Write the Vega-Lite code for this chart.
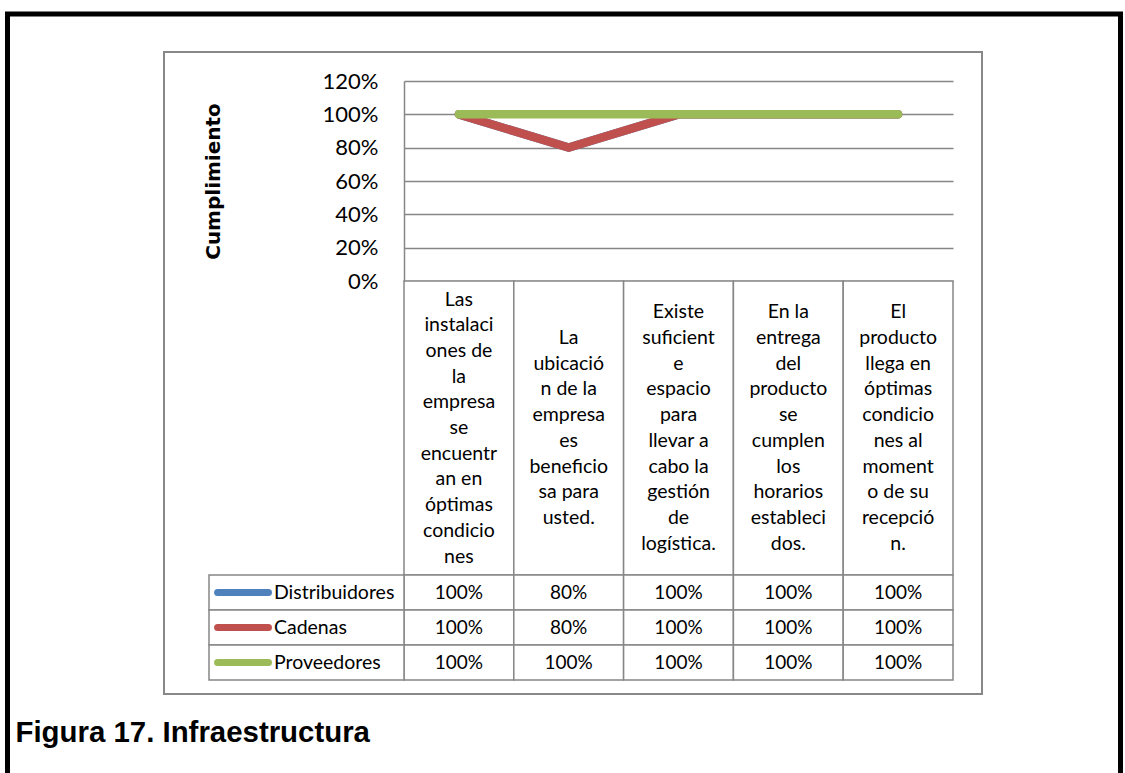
{
  "$schema": "https://vega.github.io/schema/vega-lite/v6.json",
  "width": 1113,
  "height": 762,
  "padding": {"left": 7.5, "top": 14, "right": 4.5, "bottom": 0},
  "autosize": {"type": "none"},
  "background": "white",
  "config": {"view": {"stroke": "black", "strokeWidth": 5}, "font": "Lato"},
  "title": {
    "text": "Figura 17. Infraestructura",
    "orient": "bottom",
    "anchor": "start",
    "frame": "group",
    "font": "Liberation Sans",
    "fontSize": 29.4,
    "fontWeight": "bold",
    "color": "black",
    "baseline": "alphabetic",
    "offset": -34,
    "dx": 8
  },
  "datasets": {
    "chartarea": [{"part": "chart area"}],
    "scores": [
      {"category": "Las\ninstalaci\nones de\nla\nempresa\nse\nencuentr\nan en\nóptimas\ncondicio\nnes", "series": "Distribuidores", "value": 1.0},
      {"category": "La\nubicació\nn de la\nempresa\nes\nbeneficio\nsa para\nusted.", "series": "Distribuidores", "value": 0.8},
      {"category": "Existe\nsuficient\ne\nespacio\npara\nllevar a\ncabo la\ngestión\nde\nlogística.", "series": "Distribuidores", "value": 1.0},
      {"category": "En la\nentrega\ndel\nproducto\nse\ncumplen\nlos\nhorarios\nestableci\ndos.", "series": "Distribuidores", "value": 1.0},
      {"category": "El\nproducto\nllega en\nóptimas\ncondicio\nnes al\nmoment\no de su\nrecepció\nn.", "series": "Distribuidores", "value": 1.0},
      {"category": "Las\ninstalaci\nones de\nla\nempresa\nse\nencuentr\nan en\nóptimas\ncondicio\nnes", "series": "Cadenas", "value": 1.0},
      {"category": "La\nubicació\nn de la\nempresa\nes\nbeneficio\nsa para\nusted.", "series": "Cadenas", "value": 0.8},
      {"category": "Existe\nsuficient\ne\nespacio\npara\nllevar a\ncabo la\ngestión\nde\nlogística.", "series": "Cadenas", "value": 1.0},
      {"category": "En la\nentrega\ndel\nproducto\nse\ncumplen\nlos\nhorarios\nestableci\ndos.", "series": "Cadenas", "value": 1.0},
      {"category": "El\nproducto\nllega en\nóptimas\ncondicio\nnes al\nmoment\no de su\nrecepció\nn.", "series": "Cadenas", "value": 1.0},
      {"category": "Las\ninstalaci\nones de\nla\nempresa\nse\nencuentr\nan en\nóptimas\ncondicio\nnes", "series": "Proveedores", "value": 1.0},
      {"category": "La\nubicació\nn de la\nempresa\nes\nbeneficio\nsa para\nusted.", "series": "Proveedores", "value": 1.0},
      {"category": "Existe\nsuficient\ne\nespacio\npara\nllevar a\ncabo la\ngestión\nde\nlogística.", "series": "Proveedores", "value": 1.0},
      {"category": "En la\nentrega\ndel\nproducto\nse\ncumplen\nlos\nhorarios\nestableci\ndos.", "series": "Proveedores", "value": 1.0},
      {"category": "El\nproducto\nllega en\nóptimas\ncondicio\nnes al\nmoment\no de su\nrecepció\nn.", "series": "Proveedores", "value": 1.0}
    ]
  },
  "layer": [
    {
      "data": {"name": "chartarea"},
      "mark": {"type": "rect", "fill": "transparent", "stroke": "#888888", "strokeWidth": 2},
      "encoding": {
        "x": {"datum": 0, "type": "quantitative", "scale": {"domain": [0, 1], "range": [156.5, 974.5]}, "axis": null},
        "x2": {"datum": 1},
        "y": {"datum": 0, "type": "quantitative", "scale": {"domain": [0, 1], "range": [38, 680]}, "axis": null},
        "y2": {"datum": 1}
      }
    },
    {
      "data": {"name": "scores"},
      "encoding": {
        "x": {"field": "category", "type": "nominal", "sort": null, "scale": {"type": "point", "padding": 0.5, "range": [396.5, 945.5]}, "axis": null},
        "y": {
          "field": "value", "type": "quantitative",
          "scale": {"domain": [0, 1.2], "range": [267, 67], "nice": false, "zero": true},
          "axis": {
            "orient": "left", "offset": -396.5,
            "values": [0, 0.2, 0.4, 0.6, 0.8, 1, 1.2], "format": ".0%",
            "grid": true, "gridColor": "#868686", "gridWidth": 1.5,
            "domain": true, "domainColor": "#868686", "domainWidth": 1.5,
            "ticks": false, "tickSize": 0,
            "labelFont": "Lato", "labelFontSize": 22, "labelColor": "black", "labelPadding": 26,
            "title": "Cumplimiento", "titleFont": "DejaVu Sans", "titleFontSize": 20, "titleFontWeight": "bold", "titleColor": "black",
            "titleX": -181
          }
        },
        "color": {"field": "series", "type": "nominal", "scale": {"domain": ["Distribuidores", "Cadenas", "Proveedores"], "range": ["#4F81BD", "#C0504D", "#9BBB59"]}, "legend": null}
      },
      "layer": [
        {"transform": [{"filter": "datum.series === 'Distribuidores'"}], "mark": {"type": "line", "strokeWidth": 8.5, "strokeCap": "round", "strokeJoin": "miter"}, "encoding": {}},
        {"transform": [{"filter": "datum.series === 'Cadenas'"}], "mark": {"type": "line", "strokeWidth": 8.5, "strokeCap": "round", "strokeJoin": "miter"}, "encoding": {}},
        {"transform": [{"filter": "datum.series === 'Proveedores'"}], "mark": {"type": "line", "strokeWidth": 8.5, "strokeCap": "round", "strokeJoin": "miter"}, "encoding": {}}
      ]
    },
    {
      "data": {"name": "scores"},
      "transform": [{"filter": "datum.series === 'Proveedores'"}],
      "encoding": {
        "x": {"field": "category", "type": "nominal", "sort": null, "scale": {"type": "band", "paddingInner": 0, "paddingOuter": 0, "range": [396.5, 945.5]}, "axis": null},
        "y": {"datum": "encabezado", "type": "nominal", "scale": {"type": "band", "paddingInner": 0, "paddingOuter": 0, "range": [267, 561]}, "axis": null}
      },
      "layer": [
        {"mark": {"type": "rect", "fill": "white", "stroke": "#868686", "strokeWidth": 1.5}},
        {"transform": [{"filter": "length(split(datum.category, '\\n')) === 11"}], "mark": {"type": "text", "lineBreak": "\n", "lineHeight": 25.7, "font": "Lato", "fontSize": 19.5, "color": "black", "align": "center", "baseline": "middle", "dy": -128.5}, "encoding": {"text": {"field": "category"}}},
        {"transform": [{"filter": "length(split(datum.category, '\\n')) === 10"}], "mark": {"type": "text", "lineBreak": "\n", "lineHeight": 25.7, "font": "Lato", "fontSize": 19.5, "color": "black", "align": "center", "baseline": "middle", "dy": -115.6}, "encoding": {"text": {"field": "category"}}},
        {"transform": [{"filter": "length(split(datum.category, '\\n')) === 8"}], "mark": {"type": "text", "lineBreak": "\n", "lineHeight": 25.7, "font": "Lato", "fontSize": 19.5, "color": "black", "align": "center", "baseline": "middle", "dy": -90}, "encoding": {"text": {"field": "category"}}}
      ]
    },
    {
      "data": {"name": "scores"},
      "encoding": {
        "x": {"field": "category", "type": "nominal", "sort": null, "scale": {"type": "band", "paddingInner": 0, "paddingOuter": 0, "range": [396.5, 945.5]}, "axis": null},
        "y": {"field": "series", "type": "nominal", "scale": {"type": "band", "domain": ["Distribuidores", "Cadenas", "Proveedores"], "paddingInner": 0, "paddingOuter": 0, "range": [561, 666]}, "axis": null}
      },
      "layer": [
        {"mark": {"type": "rect", "fill": "white", "stroke": "#868686", "strokeWidth": 1.5}},
        {"mark": {"type": "text", "font": "Lato", "fontSize": 19, "color": "black", "align": "center", "baseline": "middle"}, "encoding": {"text": {"field": "value", "type": "quantitative", "format": ".0%"}}}
      ]
    },
    {
      "data": {"name": "scores"},
      "transform": [{"aggregate": [{"op": "count", "as": "n"}], "groupby": ["series"]}],
      "encoding": {
        "y": {"field": "series", "type": "nominal", "scale": {"type": "band", "domain": ["Distribuidores", "Cadenas", "Proveedores"], "paddingInner": 0, "paddingOuter": 0, "range": [561, 666]}, "axis": null}
      },
      "layer": [
        {"mark": {"type": "rect", "fill": "white", "stroke": "#868686", "strokeWidth": 1.5}, "encoding": {"x": {"datum": 0, "type": "quantitative", "scale": {"domain": [0, 1], "range": [201.5, 396.5]}, "axis": null}, "x2": {"datum": 1}}},
        {"mark": {"type": "rule", "strokeWidth": 7, "strokeCap": "round"}, "encoding": {"x": {"datum": 0.044, "type": "quantitative"}, "x2": {"datum": 0.305}, "color": {"field": "series", "type": "nominal", "scale": {"domain": ["Distribuidores", "Cadenas", "Proveedores"], "range": ["#4F81BD", "#C0504D", "#9BBB59"]}, "legend": null}}},
        {"mark": {"type": "text", "font": "Lato", "fontSize": 19.5, "color": "black", "align": "left", "baseline": "middle"}, "encoding": {"x": {"datum": 0.333, "type": "quantitative"}, "text": {"field": "series"}}}
      ]
    }
  ],
  "resolve": {
    "scale": {"x": "independent", "y": "independent", "color": "independent"},
    "axis": {"x": "independent", "y": "independent"}
  }
}
